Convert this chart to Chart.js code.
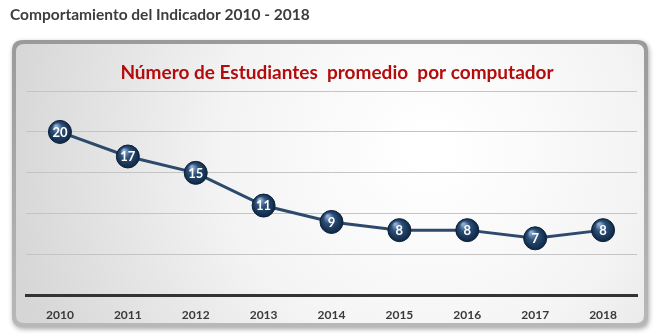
<!DOCTYPE html>
<html>
<head>
<meta charset="utf-8">
<script src="https://cdn.jsdelivr.net/npm/chart.js@4.4.1/dist/chart.umd.min.js"></script>
<style>
  html, body { margin: 0; padding: 0; background: #fff; }
  #wrap { position: relative; width: 660px; height: 336px; }
</style>
</head>
<body>
<div id="wrap"><canvas id="chart" width="660" height="336"></canvas></div>
<script>
// ---- data ----
var YEARS  = ['2010', '2011', '2012', '2013', '2014', '2015', '2016', '2017', '2018'];
var VALUES = [20, 17, 15, 11, 9, 8, 8, 7, 8];
var Y_MIN = 0, Y_MAX = 25, Y_STEP = 5;

var HEADER = 'Comportamiento del Indicador 2010 - 2018';
var TITLE  = 'Número de Estudiantes  promedio  por computador';

var FONT = 'Lato, "Open Sans", sans-serif';

// ---- helpers ----
function roundRect(ctx, x, y, w, h, r) {
  ctx.beginPath();
  ctx.moveTo(x + r, y);
  ctx.lineTo(x + w - r, y);
  ctx.quadraticCurveTo(x + w, y, x + w, y + r);
  ctx.lineTo(x + w, y + h - r);
  ctx.quadraticCurveTo(x + w, y + h, x + w - r, y + h);
  ctx.lineTo(x + r, y + h);
  ctx.quadraticCurveTo(x, y + h, x, y + h - r);
  ctx.lineTo(x, y + r);
  ctx.quadraticCurveTo(x, y, x + r, y);
  ctx.closePath();
}

function pointFill(c) {
  var chart = c.chart;
  var xs = chart.scales.x, ys = chart.scales.y;
  if (!xs || !ys || c.raw == null) return '#1f3f63';
  var px = xs.getPixelForValue(c.dataIndex);
  var py = ys.getPixelForValue(c.raw);
  if (!isFinite(px) || !isFinite(py)) return '#1f3f63';
  var g = chart.ctx.createRadialGradient(px - 4, py - 6, 1, px, py, 12);
  g.addColorStop(0, '#8eaed0');
  g.addColorStop(0.4, '#2d5079');
  g.addColorStop(1, '#0d2440');
  return g;
}

// ---- panel + header behind the chart ----
var backdrop = {
  id: 'backdrop',
  beforeDraw: function (chart) {
    var ctx = chart.ctx;
    ctx.save();
    // header
    ctx.fillStyle = '#3d3d3d';
    ctx.font = 'bold 15.5px ' + FONT;
    ctx.textBaseline = 'middle';
    ctx.textAlign = 'left';
    ctx.fillText(HEADER, 10, 15);

    // panel shadow
    ctx.shadowColor = 'rgba(0,0,0,0.35)';
    ctx.shadowBlur = 5;
    ctx.shadowOffsetX = 1;
    ctx.shadowOffsetY = 2;
    roundRect(ctx, 12, 40, 636, 287, 11);
    var border = ctx.createLinearGradient(0, 40, 0, 327);
    border.addColorStop(0, '#9a9a9a');
    border.addColorStop(1, '#b8b8b8');
    ctx.fillStyle = border;
    ctx.fill();
    ctx.shadowColor = 'transparent';

    // inner face
    roundRect(ctx, 16, 44, 628, 279, 8);
    var bg = ctx.createRadialGradient(430, 150, 20, 430, 150, 430);
    bg.addColorStop(0, '#ffffff');
    bg.addColorStop(0.45, '#f4f4f4');
    bg.addColorStop(1, '#d6d6d6');
    ctx.fillStyle = bg;
    ctx.fill();

    // red title
    ctx.fillStyle = '#b40c0c';
    ctx.font = 'bold 19px ' + FONT;
    ctx.textAlign = 'center';
    ctx.fillText(TITLE, 337, 73);
    ctx.restore();
  }
};

// ---- value labels on markers ----
var markerLabels = {
  id: 'markerLabels',
  afterDatasetsDraw: function (chart) {
    var ctx = chart.ctx;
    var meta = chart.getDatasetMeta(0);
    ctx.save();
    ctx.fillStyle = '#ffffff';
    ctx.font = 'bold 13px ' + FONT;
    ctx.textAlign = 'center';
    ctx.textBaseline = 'middle';
    meta.data.forEach(function (pt, i) {
      ctx.fillText(String(VALUES[i]), pt.x, pt.y + 0.5);
    });
    ctx.restore();
  }
};

new Chart(document.getElementById('chart'), {
  type: 'line',
  data: {
    labels: YEARS,
    datasets: [{
      data: VALUES,
      borderColor: '#2d4a6c',
      borderWidth: 3,
      tension: 0,
      pointRadius: 11.5,
      pointHoverRadius: 11.5,
      pointBorderWidth: 1,
      pointBorderColor: '#0c223d',
      pointBackgroundColor: pointFill
    }]
  },
  options: {
    responsive: false,
    animation: false,
    layout: { padding: { left: 26, right: 23, top: 91, bottom: 2 } },
    plugins: {
      legend: { display: false },
      tooltip: { enabled: false },
      title: { display: false }
    },
    scales: {
      x: {
        offset: true,
        grid: { display: false, drawTicks: false },
        border: { display: true, color: '#333333', width: 3 },
        ticks: {
          color: '#3a3a3a',
          font: { family: FONT, size: 12, weight: 'bold' },
          padding: 12,
          maxRotation: 0
        }
      },
      y: {
        min: Y_MIN,
        max: Y_MAX,
        ticks: { display: false, stepSize: Y_STEP },
        grid: { color: '#c4c4c4', lineWidth: 1, drawTicks: false },
        border: { display: false }
      }
    }
  },
  plugins: [backdrop, markerLabels]
});
</script>
</body>
</html>
